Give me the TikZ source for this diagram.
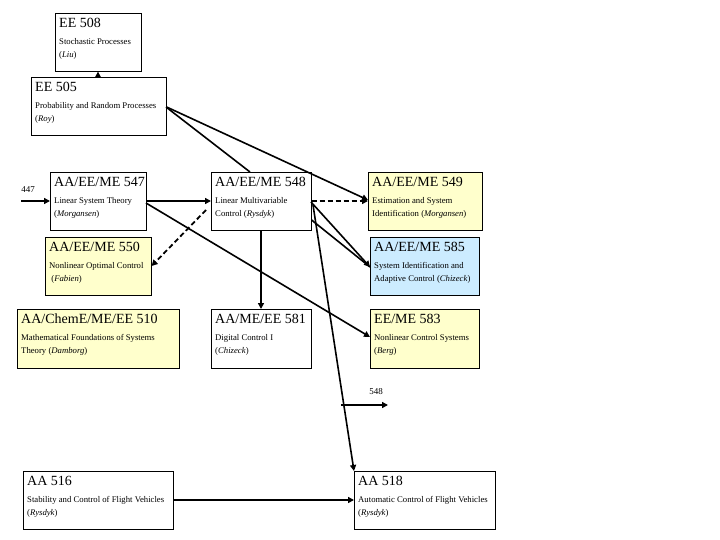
\documentclass[tikz,border=0pt]{standalone}
\usepackage{fontspec}
\setmainfont{Liberation Serif}
\usetikzlibrary{arrows.meta,calc}
\definecolor{yel}{RGB}{255,255,204}
\definecolor{blu}{RGB}{204,236,255}
\tikzset{
 box/.style={draw,line width=0.6pt,inner sep=0pt,anchor=north west},
 ttl/.style={anchor=north west,inner sep=0pt,font=\fontsize{14}{15}\selectfont},
 sub/.style={anchor=north west,inner sep=0pt,align=left,font=\fontsize{8.7}{13}\selectfont},
 ar/.style={line width=1.6pt,-{Triangle[length=6pt,width=6pt]}},
 thk/.style={line width=2.4pt,-{Triangle[length=6pt,width=6pt]}},
 ln/.style={line width=1.6pt},
 dsh/.style={line width=1.8pt,dash pattern=on 5pt off 3pt,-{Triangle[length=6pt,width=6pt]}}
}
\newcommand{\course}[9]{%
 \node[box,fill=#6,minimum width=#4pt-#2pt,minimum height=#5pt-#3pt] (#1) at (#2,#3) {};
 \node[ttl] (#1t) at (#2+4,#3+5) {#7};
 \node[sub] (#1s) at (#2+4,#3+25) {#8\\#9};
}
\begin{document}
\begin{tikzpicture}[x=1pt,y=-1pt]
\useasboundingbox (0,0) rectangle (720,540);
\course{a508}{55}{13}{141}{71}{white}{EE 508}{Stochastic Processes}{(\textit{Liu})}
\course{a505}{31}{77}{166}{135}{white}{EE 505}{Probability and Random Processes}{(\textit{Roy})}
\course{a547}{50}{172}{146}{230}{white}{AA/EE/ME 547}{Linear System Theory}{(\textit{Morgansen})}
\course{a548}{211}{172}{311}{230}{white}{AA/EE/ME 548}{Linear Multivariable}{Control (\textit{Rysdyk})}
\course{a549}{368}{172}{482}{230}{yel}{AA/EE/ME 549}{Estimation and System}{Identification (\textit{Morgansen})}
\course{a550}{45}{237}{151}{295}{yel}{AA/EE/ME 550}{Nonlinear Optimal Control}{\ (\textit{Fabien})}
\course{a585}{370}{237}{479}{295}{blu}{AA/EE/ME 585}{System Identification and}{Adaptive Control (\textit{Chizeck})}
\course{a510}{17}{309}{179}{368}{yel}{AA/ChemE/ME/EE 510}{Mathematical Foundations of Systems}{Theory (\textit{Damborg})}
\course{a581}{211}{309}{311}{368}{white}{AA/ME/EE 581}{Digital Control I}{(\textit{Chizeck})}
\course{a583}{370}{309}{479}{368}{yel}{EE/ME 583}{Nonlinear Control Systems}{(\textit{Berg})}
\course{a516}{23}{471}{173}{529}{white}{AA 516}{Stability and Control of Flight Vehicles}{(\textit{Rysdyk})}
\course{a518}{354}{471}{495}{529}{white}{AA 518}{Automatic Control of Flight Vehicles}{(\textit{Rysdyk})}
\node[font=\fontsize{9}{10}\selectfont,inner sep=0pt] (l447) at (28,190) {447};
\node[font=\fontsize{9}{10}\selectfont,inner sep=0pt] (l548) at (376,392) {548};
\coordinate (s447) at (21,201);
\coordinate (s548) at (341,405);
\coordinate (e548) at (388,405);
% connectors
\draw[ar,line width=0.8pt] (a505.north west -| 98,0) ++(0,0) coordinate (u) -- (a508.south west -| u);
\draw[ar] (a505.north east |- 0,107) -- (a549.west |- 0,200);
\draw[ln] (166,107) coordinate (p1) -- (a548.north west -| 250,0);
\draw[thk,line width=1.8pt] (s447) -- (a547.west |- s447);
\draw[thk] (a547.east |- 0,201) -- (a548.west |- 0,201);
\draw[ar] (146,203) coordinate (p2) -- (a583.west |- 0,337);
\draw[dsh] (206,210) coordinate (p3) -- (a550.east |- 0,266);
\draw[dsh] (a548.east |- 0,201) -- (a549.west |- 0,201);
\draw[ar] (311,202) coordinate (p4) -- (a585.west |- 0,267);
\draw[ln] (a548.east |- 0,220) -- (a585.west |- 0,267);
\draw[thk,line width=1.8pt] (a548.south west -| 261,0) -- (a581.north west -| 261,0);
\draw[ar] (313,205) coordinate (p5) -- (a518.north west -| 354,497);
\draw[thk,line width=1.8pt] (s548) -- (e548);
\draw[thk] (a516.east |- 0,500) -- (a518.west |- 0,500);
\end{tikzpicture}
\end{document}
